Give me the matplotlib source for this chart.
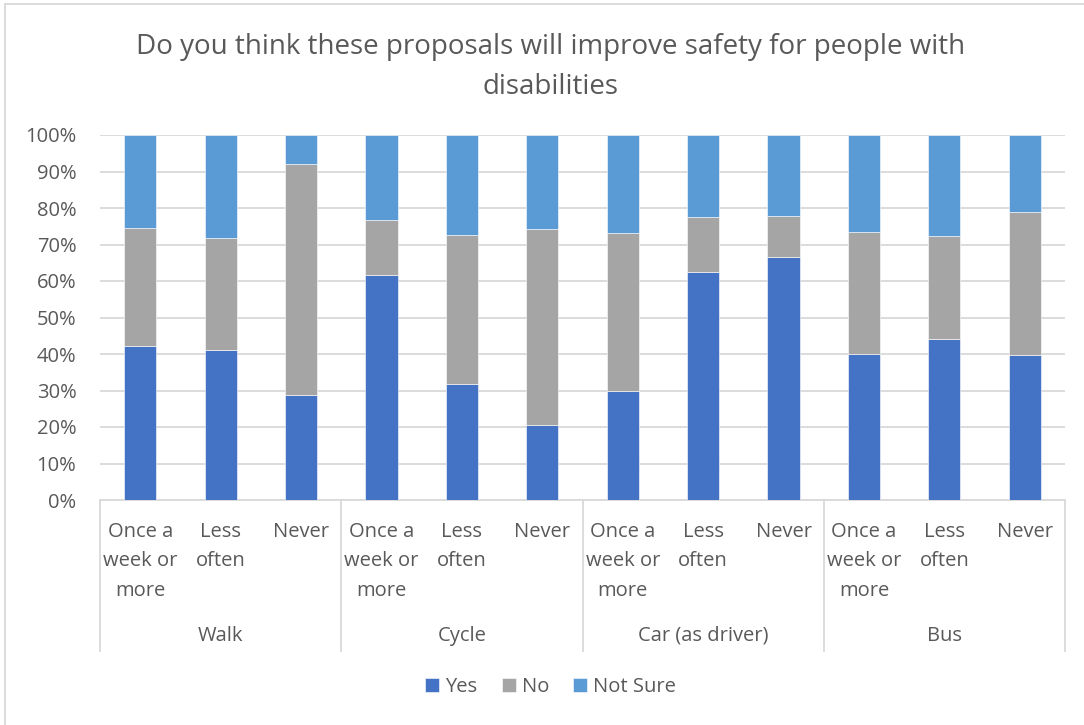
import matplotlib
matplotlib.use("Agg")
import matplotlib.pyplot as plt
import matplotlib.transforms as mtransforms
import numpy as np

plt.rcParams['font.family'] = ['Open Sans', 'DejaVu Sans']

# survey answers, percentages per travel mode / frequency
modes = ["Walk", "Cycle", "Car (as driver)", "Bus"]
frequencies = ["Once a\nweek or\nmore", "Less\noften", "Never"]
yes = [42.2, 41.2, 28.7, 61.7, 31.7, 20.6, 29.8, 62.6, 66.7, 39.9, 44.2, 39.6]
no = [32.3, 30.6, 63.4, 15.0, 40.9, 53.6, 43.4, 15.0, 11.2, 33.5, 28.2, 39.4]
not_sure = [25.5, 28.2, 7.9, 23.3, 27.4, 25.8, 26.8, 22.4, 22.1, 26.6, 27.6, 21.0]

series_names = ["Yes", "No", "Not Sure"]
colors = ["#4472c4", "#a5a5a5", "#5b9bd5"]
text_col = "#595959"
grid_col = "#d9d9d9"

W, H = 1084, 725
fig = plt.figure(figsize=(W / 100, H / 100), dpi=100)
ax = fig.add_axes([100 / W, 1 - 500 / H, 965 / W, 365 / H])

n = len(yes)
x = np.arange(n)
bottom = np.zeros(n)
handles = []
for vals, name, col in zip([yes, no, not_sure], series_names, colors):
    vals = np.array(vals)
    h = ax.bar(x, vals, width=0.4, bottom=bottom, color=col, label=name,
               edgecolor="white", linewidth=0.4, zorder=3)
    handles.append(h)
    bottom += vals

ax.set_xlim(-0.5, n - 0.5)
ax.set_ylim(0, 100)
ax.set_yticks(np.arange(0, 101, 10))
ax.set_yticklabels([f"{v}%" for v in range(0, 101, 10)])
ax.tick_params(axis="y", length=0, labelsize=14.5, labelcolor=text_col, pad=17)
ax.set_xticks([])
ax.yaxis.grid(True, color=grid_col, linewidth=1.3, zorder=0)
for s in ["top", "right", "left"]:
    ax.spines[s].set_visible(False)
ax.spines["bottom"].set_color(grid_col)
ax.spines["bottom"].set_linewidth(1.3)

# two-level category axis drawn below the plot
trans = mtransforms.blended_transform_factory(ax.transData, ax.transAxes)
def frac(px):
    return -px / 365

for i in range(n):
    ax.text(x[i], frac(22), frequencies[i % 3], transform=trans, ha="center",
            va="top", fontsize=14.5, color=text_col, linespacing=1.63)
for g, mode in enumerate(modes):
    ax.text(g * 3 + 1, frac(136), mode, transform=trans, ha="center",
            va="center", fontsize=14.5, color=text_col)
for g in range(len(modes) + 1):
    ax.plot([g * 3 - 0.5, g * 3 - 0.5], [0, frac(151)], transform=trans,
            color=grid_col, linewidth=1.3, clip_on=False)

fig.text(0.508, 1 - 67 / H,
         "Do you think these proposals will improve safety for people with\ndisabilities",
         ha="center", va="center", fontsize=20, color=text_col, linespacing=1.55)

fig.legend(handles, series_names, loc="center", bbox_to_anchor=(0.508, 1 - 687 / H),
           ncol=3, frameon=False, fontsize=14.5, labelcolor=text_col,
           handlelength=0.7, handleheight=0.7, handletextpad=0.3,
           columnspacing=1.2)

# chart border (top and left edges only; the rest runs off the canvas)
fig.add_artist(plt.Line2D([5 / W, 1], [1 - 4 / H, 1 - 4 / H], transform=fig.transFigure,
                          color=grid_col, linewidth=1.3))
fig.add_artist(plt.Line2D([5 / W, 5 / W], [0, 1 - 4 / H], transform=fig.transFigure,
                          color=grid_col, linewidth=1.3))

fig.savefig("out.png", dpi=100)
